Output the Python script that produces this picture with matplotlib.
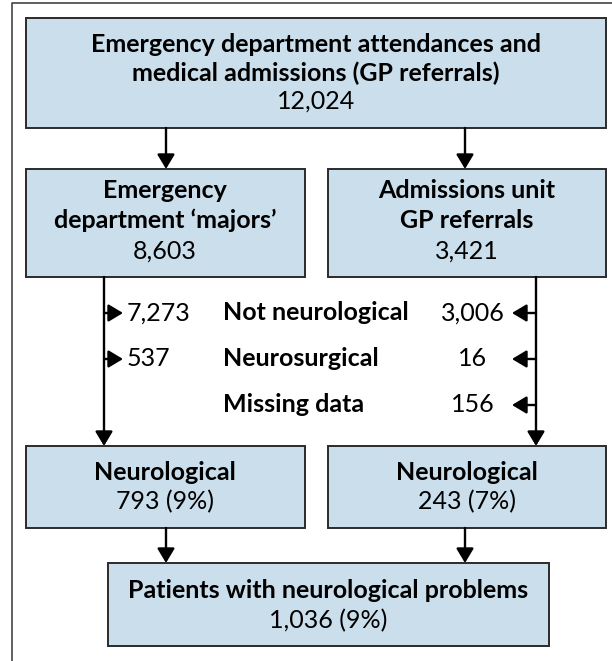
import matplotlib
matplotlib.use("Agg")
from matplotlib import pyplot as plt
from matplotlib.patches import Rectangle

# flowchart numbers
total = "12,024"
ed_majors = "8,603"
au_referrals = "3,421"
excluded_labels = ["Not neurological", "Neurosurgical", "Missing data"]
excluded_ed = ["7,273", "537", ""]
excluded_au = ["3,006", "16", "156"]
neuro_ed = "793 (9%)"
neuro_au = "243 (7%)"
neuro_total = "1,036 (9%)"

plt.rcParams['font.family'] = ['Lato', 'DejaVu Sans']
box_fc = '#cadeeb'
box_ec = '#2b2b2b'
fs = 18

fig = plt.figure(figsize=(6.12, 6.61), dpi=100)
ax = fig.add_axes([0, 0, 1, 1])
ax.set_xlim(0, 612)
ax.set_ylim(661, 0)
ax.axis('off')

# outer frame (left + top only visible)
ax.plot([12, 12, 612], [661, 3, 3], color='#444444', lw=1.2)

def box(x0, y0, x1, y1):
    ax.add_patch(Rectangle((x0, y0), x1 - x0, y1 - y0, facecolor=box_fc,
                           edgecolor=box_ec, lw=1.4))

def arrow(x0, y0, x1, y1):
    ax.annotate('', xy=(x1, y1), xytext=(x0, y0),
                arrowprops=dict(arrowstyle='-|>,head_length=0.55,head_width=0.33',
                                mutation_scale=16, lw=1.7, color='black',
                                shrinkA=0, shrinkB=0))

def txt(x, y, s, bold=False, ha='center'):
    ax.text(x, y, s, ha=ha, va='center', fontsize=fs,
            fontweight='bold' if bold else 'normal', color='black')

# top box
box(26, 18, 606, 128)
txt(316, 44, "Emergency department attendances and", bold=True)
txt(316, 73, "medical admissions (GP referrals)", bold=True)
txt(316, 101, total)

arrow(166, 128, 166, 169)
arrow(465, 128, 465, 169)

# second row
box(26, 169, 305, 277)
txt(165, 190, "Emergency", bold=True)
txt(165, 220, "department \u2018majors\u2019", bold=True)
txt(165, 251, ed_majors)

box(328, 169, 606, 277)
txt(467, 190, "Admissions unit", bold=True)
txt(467, 220, "GP referrals", bold=True)
txt(467, 251, au_referrals)

# long vertical arrows
arrow(104, 277, 104, 446)
arrow(536, 277, 536, 446)

rows_y = [313, 359, 405]
for yy, lab, ed, au in zip(rows_y, excluded_labels, excluded_ed, excluded_au):
    if ed:
        arrow(104, yy, 123, yy)
        txt(127, yy, ed, ha='left')
    txt(223, yy, lab, bold=True, ha='left')
    if au:
        arrow(536, yy, 512, yy)
        txt(473, yy, au)

# third row
box(26, 446, 305, 528)
txt(165, 472, "Neurological", bold=True)
txt(165, 502, neuro_ed)

box(328, 446, 606, 528)
txt(467, 472, "Neurological", bold=True)
txt(467, 502, neuro_au)

arrow(166, 528, 166, 563)
arrow(465, 528, 465, 563)

# bottom box
box(108, 563, 549, 646)
txt(328, 590, "Patients with neurological problems", bold=True)
txt(328, 621, neuro_total)

fig.savefig('out.png', dpi=100)
